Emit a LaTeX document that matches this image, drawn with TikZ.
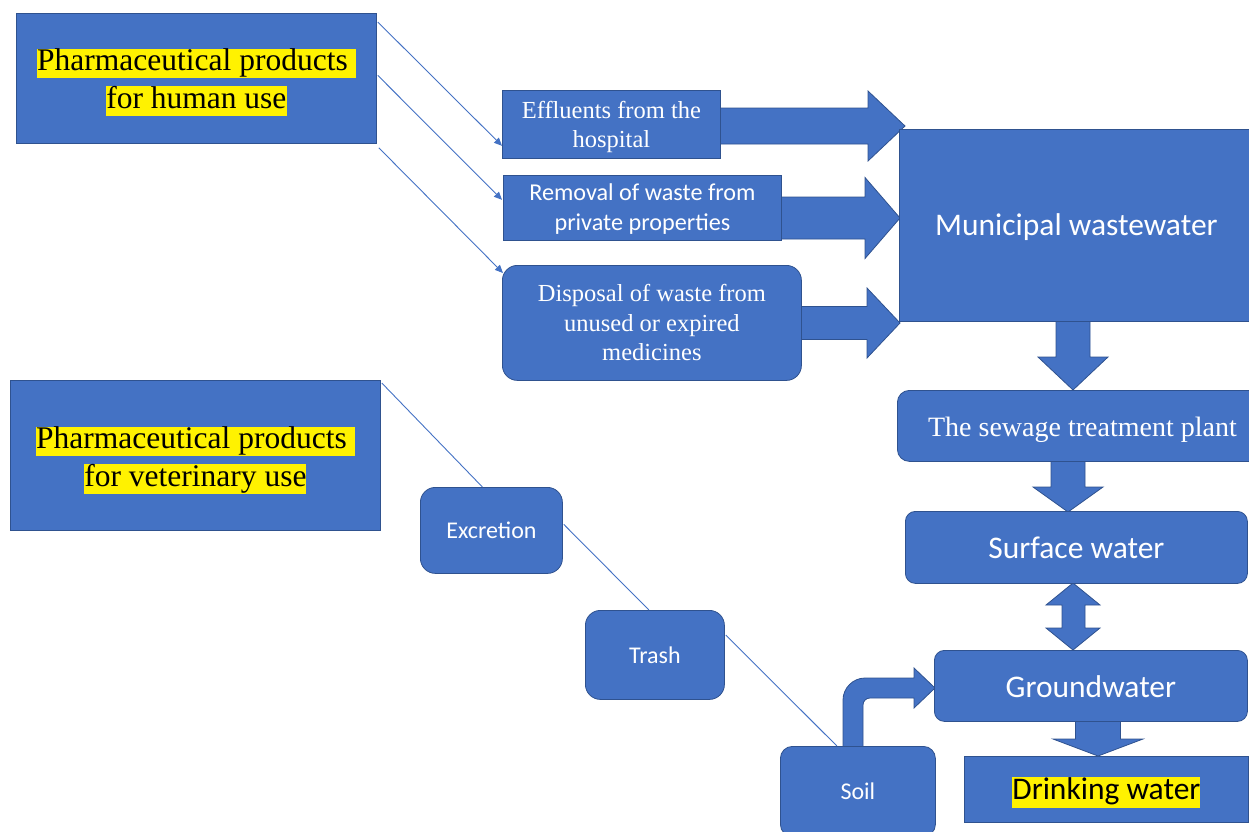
\documentclass[tikz,border=0pt]{standalone}
\usepackage{fontspec}
\setmainfont{Liberation Serif}
\newfontfamily\calfont{Carlito}
\usetikzlibrary{arrows.meta,calc}
\definecolor{bfill}{HTML}{4472C4}
\definecolor{bdraw}{HTML}{2F528F}
\newcommand\hlser[1]{{\setlength\fboxsep{0pt}\colorbox{yellow}{\rule[-0.24em]{0pt}{0.88em}#1}}}
\newcommand\hlcal[1]{{\setlength\fboxsep{0pt}\colorbox{yellow}{\rule[-0.27em]{0pt}{0.9em}#1}}}
% right block arrow: x1, tipx, yc, shaft half, head half, head length
\newcommand\rarr[6]{\path[blk] (#1,#3-#4) -- (#2-#6,#3-#4) -- (#2-#6,#3-#5) -- (#2,#3) -- (#2-#6,#3+#5) -- (#2-#6,#3+#4) -- (#1,#3+#4) -- cycle;}
% down block arrow: y1, tipy, xc, shaft half, head half, head length
\newcommand\darr[6]{\path[blk] (#3-#4,#1) -- (#3-#4,#2-#6) -- (#3-#5,#2-#6) -- (#3,#2) -- (#3+#5,#2-#6) -- (#3+#4,#2-#6) -- (#3+#4,#1) -- cycle;}
\begin{document}
\begin{tikzpicture}[x=1pt,y=-1pt,
  box/.style={fill=bfill,draw=bdraw,line width=0.8pt,inner sep=0pt,anchor=north west},
  rbox/.style={box,rounded corners=12pt},
  lab/.style={inner sep=0pt,align=center,text=white},
  blk/.style={fill=bfill,draw=bdraw,line width=0.8pt},
  conn/.style={draw=bfill,line width=0.9pt},
  arr/.style={-{Triangle[length=8pt,width=7pt]}},
  serbig/.style={font=\fontsize{31.5}{38}\selectfont},
  sermid/.style={font=\fontsize{24.5}{29.5}\selectfont},
  calbig/.style={font=\calfont\fontsize{31.5}{38}\selectfont},
  calmid/.style={font=\calfont\fontsize{24.2}{30}\selectfont},
  calsm/.style={font=\calfont\fontsize{24}{29}\selectfont}]
\useasboundingbox (0,0) rectangle (1249,831);
\clip (0,0) rectangle (1249,831);

% block arrows (drawn first, boxes on top)
\rarr{718}{905}{126}{18}{35}{37}
\rarr{779}{900}{218}{21}{40.5}{35}
\rarr{799}{900}{323}{16.5}{35}{33}
\darr{318}{390}{1073}{17}{35}{33}
\darr{459}{512}{1068}{17}{35}{25}
\darr{719}{756}{1098}{22.5}{45}{17}
\path[blk] (1073,583) -- (1100,605) -- (1085,605) -- (1085,628) -- (1100,628) -- (1073,650)
  -- (1046,628) -- (1062,628) -- (1062,605) -- (1046,605) -- cycle;
\path[blk] (843,748) -- (843,700) .. controls (843,688) and (853,678) .. (865,678) -- (914,678)
  -- (914,668) -- (935,688) -- (914,708) -- (914,698) -- (870,698)
  .. controls (866,698) and (863,701) .. (863,705) -- (863,748) -- cycle;

% boxes with their texts
\node[box,minimum width=360,minimum height=130,
  label={[lab,serbig,text=black,yshift=-4]center:{\hlser{Pharmaceutical products\ }\\\hlser{for human use}}}] (hum) at (16,13) {};
\node[box,minimum width=370,minimum height=150,
  label={[lab,serbig,text=black,yshift=-5]center:{\hlser{Pharmaceutical products\ }\\\hlser{for veterinary use}}}] (vet) at (10,380) {};
\node[box,minimum width=218,minimum height=68,
  label={[lab,sermid,yshift=-2.5]center:{Effluents from the\\hospital}}] (eff) at (502,90) {};
\node[box,minimum width=278,minimum height=65,
  label={[lab,calmid,yshift=-1.5]center:{Removal of waste from\\private properties}}] (rem) at (503,175) {};
\node[rbox,rounded corners=15pt,minimum width=299,minimum height=115,
  label={[lab,sermid]center:{Disposal of waste from\\unused or expired\\medicines}}] (dis) at (502,265) {};
\node[box,minimum width=354,minimum height=192,
  label={[lab,calbig,yshift=-2]center:{Municipal wastewater}}] (mun) at (899,129) {};
\node[rbox,minimum width=370,minimum height=71,
  label={[lab,font=\fontsize{28}{34}\selectfont,yshift=-4]center:{The sewage treatment plant}}] (sew) at (897,390) {};
\node[rbox,rounded corners=10pt,minimum width=342,minimum height=72,
  label={[lab,calbig]center:{Surface water}}] (sur) at (905,511) {};
\node[rbox,rounded corners=10pt,minimum width=313,minimum height=71,
  label={[lab,calbig,yshift=-1]center:{Groundwater}}] (gro) at (934,650) {};
\node[box,minimum width=284,minimum height=66,
  label={[lab,calbig,text=black,yshift=-3]center:{\hlcal{Drinking water}}}] (dri) at (964,756) {};
\node[rbox,rounded corners=15pt,minimum width=142,minimum height=86,
  label={[lab,calsm]center:{Excretion}}] (exc) at (420,487) {};
\node[rbox,rounded corners=15pt,minimum width=139,minimum height=89,
  label={[lab,calsm]center:{Trash}}] (trash) at (585,610) {};
\node[rbox,minimum width=155,minimum height=90,
  label={[lab,calsm]center:{Soil}}] (soil) at (780,746) {};

% thin connectors
\draw[conn,arr] ($(hum.north east)+(1,9)$) -- ($(eff.south west)+(0,-13)$);
\draw[conn,arr] ($(hum.east)+(1,-3)$) -- ($(rem.south west)+(-1,-41)$);
\draw[conn,arr] ($(hum.south east)+(2,4)$) -- ($(dis.north west)+(1,8)$);
\draw[conn] ($(vet.north east)+(1,3)$) -- ($(exc.north)+(-9,0)$);
\draw[conn] ($(exc.east)+(1,-6)$) -- ($(trash.north)+(-6,0)$);
\draw[conn] ($(trash.north east)+(1,25)$) -- ($(soil.north)+(-21,0)$);
\end{tikzpicture}
\end{document}
